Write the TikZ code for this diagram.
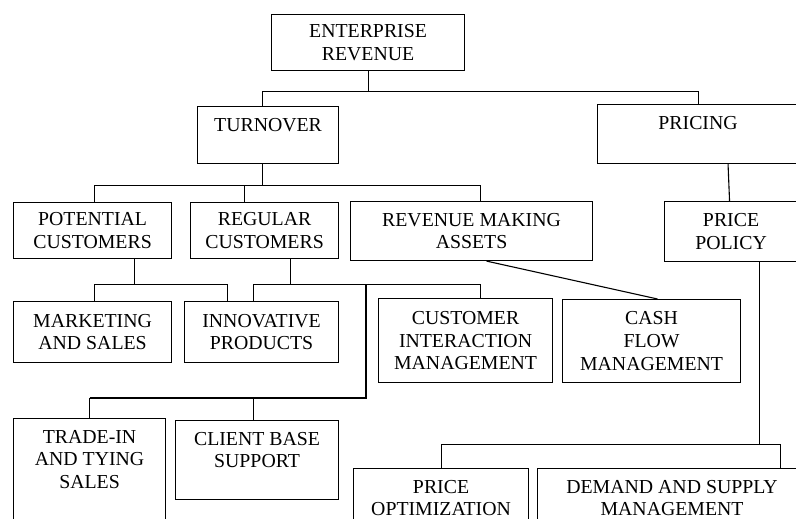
\documentclass[tikz,border=0pt]{standalone}
\usepackage{fontspec}
\setmainfont{Liberation Serif}
\usetikzlibrary{calc}

\tikzset{
  block/.style={draw, line width=1.1pt, anchor=north west, align=center, inner sep=0pt},
  toptext/.style={anchor=north, align=center, inner sep=0pt},
  link/.style={line width=1.1pt},
}

\begin{document}
\begin{tikzpicture}[x=1pt, y=-1pt, font=\fontsize{19.8}{22.6}\selectfont]
        \useasboundingbox (0,0) rectangle (796,519);
        \clip (0,0) rectangle (796,519);

        % Top level
        \node[block, minimum width=193pt, minimum height=56pt] (rev) at (271,14) {ENTERPRISE\\REVENUE};

        % Second level
        \node[block, minimum width=141pt, minimum height=57pt] (turn) at (197,106) {};
        \node[toptext] (turnlbl) at ([yshift=-12pt]turn.north) {TURNOVER};
        \node[block, minimum width=201pt, minimum height=59pt] (pric) at (597,104) {};
        \node[toptext] (priclbl) at ([yshift=-12pt]pric.north) {PRICING};

        % Third level
        \node[block, minimum width=158pt, minimum height=56pt] (pot) at (13,202) {POTENTIAL\\CUSTOMERS};
        \node[block, minimum width=148pt, minimum height=56pt] (reg) at (190,202) {REGULAR\\CUSTOMERS};
        \node[block, minimum width=242pt, minimum height=59pt] (rma) at (350,201) {REVENUE MAKING\\ASSETS};
        \node[block, minimum width=133pt, minimum height=60pt] (ppol) at (664,201) {PRICE\\POLICY};

        % Fourth level
        \node[block, minimum width=158pt, minimum height=61pt] (mkt) at (13,301) {MARKETING\\AND SALES};
        \node[block, minimum width=154pt, minimum height=61pt] (inno) at (184,301) {INNOVATIVE\\PRODUCTS};
        \node[block, minimum width=174pt, minimum height=84pt] (cim) at (378,298) {CUSTOMER\\INTERACTION\\MANAGEMENT};
        \node[block, minimum width=178pt, minimum height=83pt] (cash) at (562,299) {CASH\\FLOW\\MANAGEMENT};

        % Bottom level
        \node[block, minimum width=152pt, minimum height=122pt] (trade) at (13,418) {};
        \node[toptext] (tradelbl) at ([yshift=-12pt]trade.north) {TRADE-IN\\AND TYING\\SALES};
        \node[block, minimum width=163pt, minimum height=79pt] (cbs) at (175,420) {};
        \node[toptext] (cbslbl) at ([yshift=-12pt]cbs.north) {CLIENT BASE\\SUPPORT};
        \node[block, minimum width=175pt, minimum height=72pt] (popt) at (353,468) {};
        \node[toptext] (poptlbl) at ([yshift=-12pt]popt.north) {PRICE\\OPTIMIZATION};
        \node[block, minimum width=269pt, minimum height=72pt] (dsm) at (537,468) {};
        \node[toptext] (dsmlbl) at ([yshift=-12pt]dsm.north) {DEMAND AND SUPPLY\\MANAGEMENT};

        % Revenue splits into turnover and pricing
        \draw[link] (rev.south) -- ++(0,20) coordinate (b1);
        \draw[link] ([xshift=-5.5pt]turn.north) |- (b1) -| (pric.north);

        % Turnover branches
        \draw[link] ([xshift=-5.5pt]turn.south) -- ++(0,21) coordinate (b2);
        \draw[link] ([xshift=2pt]pot.north) |- (b2) -| ([xshift=9pt]rma.north);
        \draw[link] ([xshift=-20pt]reg.north) |- (b2);

        % Potential customers
        \draw[link] ([xshift=42pt]pot.south) -- ++(0,25) coordinate (b3);
        \draw[link] ([xshift=2pt]mkt.north) |- (b3) -| ([xshift=-34pt]inno.north);

        % Regular customers
        \draw[link] ([xshift=26pt]reg.south) -- ++(0,25) coordinate (b4);
        \draw[link] ([xshift=-8pt]inno.north) |- (b4) -| ([xshift=15pt]cim.north);
        \draw[link] (trade.north) -- ++(0,-20) coordinate (b5);
        \draw[link] ([xshift=-3.5pt]cbs.north) |- (b5);
        \draw[link] (b5) -| ($(cim.west |- b4)+(-12,0)$);

        % Assets to cash flow
        \draw[link] ([xshift=15pt]rma.south) -- ([xshift=6pt]cash.north);

        % Pricing side
        \draw[link] ([xshift=30pt]pric.south) -- ([xshift=-1.5pt]ppol.north);
        \draw[link] ([xshift=28.5pt]ppol.south) -- ++(0,182) coordinate (b6);
        \draw[link] (popt.north) |- (b6) -| ([xshift=-27pt]dsm.north east);
\end{tikzpicture}
\end{document}
